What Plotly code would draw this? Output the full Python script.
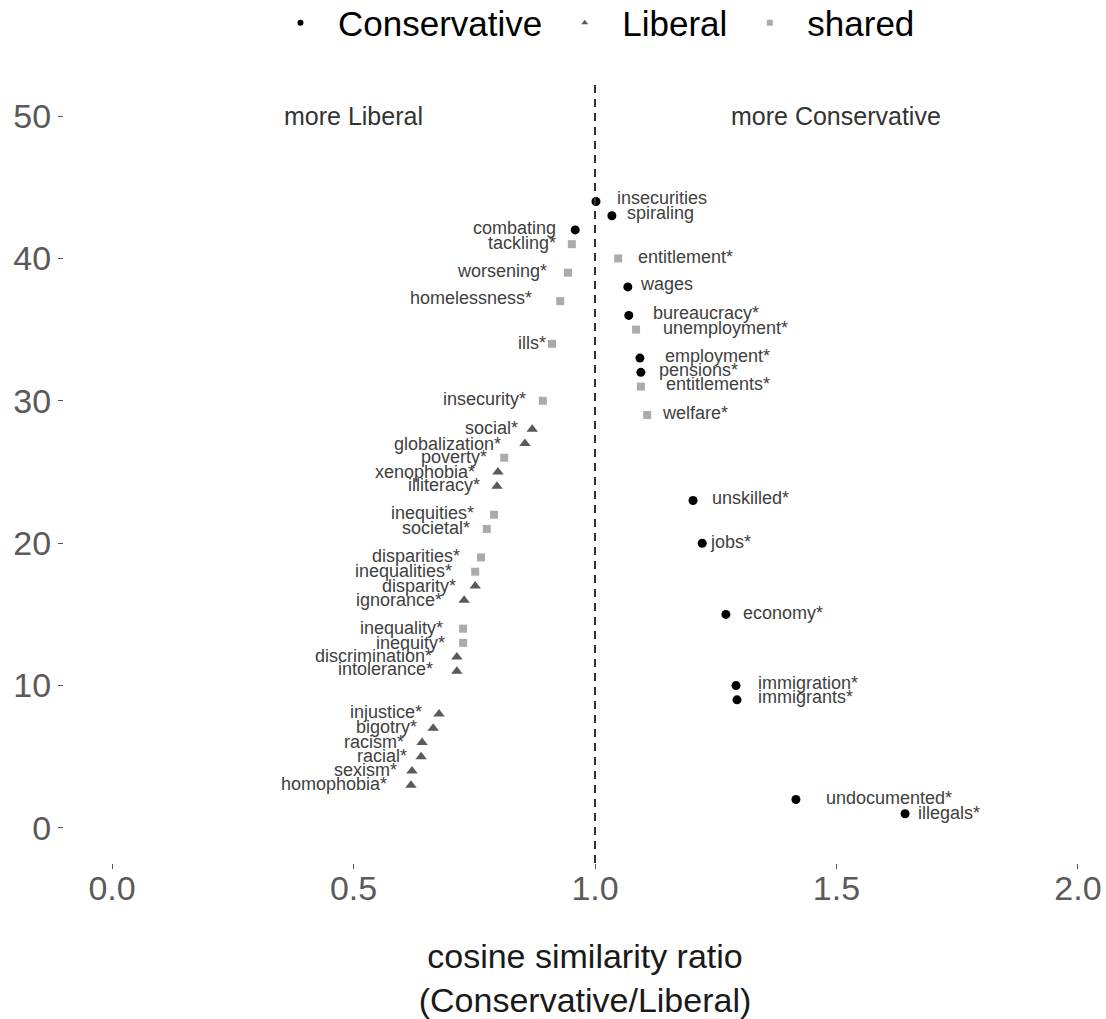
import plotly.graph_objects as go

# ---- data (rank order, bottom to top) ----
words = ["illegals*", "undocumented*", "homophobia*", "sexism*", "racial*", "racism*",
         "bigotry*", "injustice*", "immigrants*", "immigration*", "intolerance*",
         "discrimination*", "inequity*", "inequality*", "economy*", "ignorance*",
         "disparity*", "inequalities*", "disparities*", "jobs*", "societal*",
         "inequities*", "unskilled*", "illiteracy*", "xenophobia*", "poverty*",
         "globalization*", "social*", "welfare*", "insecurity*", "entitlements*",
         "pensions*", "employment*", "ills*", "unemployment*", "bureaucracy*",
         "homelessness*", "wages", "worsening*", "entitlement*", "tackling*",
         "combating", "spiraling", "insecurities"]
rank = list(range(1, 45))
ratio = [1.642, 1.416, 0.619, 0.621, 0.640, 0.642, 0.665, 0.677, 1.294, 1.292, 0.714,
         0.714, 0.727, 0.727, 1.271, 0.729, 0.752, 0.752, 0.764, 1.222, 0.776,
         0.791, 1.203, 0.797, 0.799, 0.812, 0.855, 0.870, 1.108, 0.892, 1.095,
         1.095, 1.093, 0.911, 1.085, 1.070, 0.928, 1.068, 0.944, 1.048, 0.952,
         0.959, 1.035, 1.002]
group = ["C", "C", "L", "L", "L", "L", "L", "L", "C", "C", "L",
         "L", "S", "S", "C", "L", "L", "S", "S", "C", "S",
         "S", "C", "L", "L", "S", "L", "L", "S", "S", "S",
         "C", "C", "S", "S", "C", "S", "C", "S", "S", "S",
         "C", "C", "C"]
group_names = {"C": "Conservative", "L": "Liberal", "S": "shared"}
x_ticks = [0.0, 0.5, 1.0, 1.5, 2.0]
y_ticks = [0, 10, 20, 30, 40, 50]

# ---- label offsets (screen pixels, repel-style placement) ----
label_dx = [13, 30, -24, -15, -14, -18, -16, -17, 21, 22, -24,
            -25, -18, -20, 17, -22, -19, -23, -21, 8, -17,
            -20, 19, -17, -23, -17, -24, -14, 15, -17, 25,
            18, 25, -6, 27, 24, -28, 12, -21, 20, -16,
            -19, 15, 21]
label_dy = [-1, -2, -1, -1, -1, -1, -1, -2, -3, -3, -2,
            -1, 0, -1, -1, 0, 0, -1, -1, -1, -1,
            -2, -2, -1, 0, -1, 0, -1, -2, -2, -3,
            -2, -2, -1, -2, -2, -3, -3, -2, -1, -1,
            -2, -3, -3]

styles = {
    "C": dict(symbol="circle", color="#000000", size=9),
    "L": dict(symbol="triangle-up", color="#5a5a5a", size=10),
    "S": dict(symbol="square", color="#ababab", size=8),
}

FONT = "Liberation Sans, Arial, Helvetica, sans-serif"
SP = "\u2002"

fig = go.Figure()

for g in ["C", "L", "S"]:
    xs = [r for r, gg in zip(ratio, group) if gg == g]
    ys = [k for k, gg in zip(rank, group) if gg == g]
    st = styles[g]
    fig.add_trace(go.Scatter(
        x=xs, y=ys, mode="markers", showlegend=False,
        marker=dict(symbol=st["symbol"], color=st["color"], size=st["size"], line=dict(width=0)),
        hoverinfo="skip"))

# legend-only entries with small keys
for g in ["C", "L", "S"]:
    st = styles[g]
    fig.add_trace(go.Scatter(
        x=[None], y=[None], mode="markers", name=SP + group_names[g] + SP,
        marker=dict(symbol=st["symbol"], color=st["color"], size=6, line=dict(width=0))))

# vertical reference line
fig.add_vline(x=1.0, line=dict(color="#333333", width=2, dash="8px,6px"))

annotations = []
for w, xv, yv, dx, dy in zip(words, ratio, rank, label_dx, label_dy):
    annotations.append(dict(
        x=xv, y=yv, xref="x", yref="y", text=w, showarrow=False,
        xanchor="left" if dx > 0 else "right", yanchor="middle",
        xshift=dx, yshift=-dy, borderpad=0, borderwidth=0,
        font=dict(family=FONT, size=18, color="#404040")))

annotations.append(dict(x=0.5, y=50, xref="x", yref="y", text="more Liberal", showarrow=False,
                        font=dict(family=FONT, size=25, color="#333333")))
annotations.append(dict(x=1.5, y=50, xref="x", yref="y", text="more Conservative", showarrow=False,
                        font=dict(family=FONT, size=25, color="#333333")))

fig.update_layout(
    width=1106, height=1019,
    margin=dict(l=64, r=0, t=83, b=156, autoexpand=False),
    paper_bgcolor="white", plot_bgcolor="white",
    font=dict(family=FONT),
    annotations=annotations,
    legend=dict(orientation="h", x=0.523, xanchor="center", y=1.077, yanchor="middle",
                font=dict(family=FONT, size=35, color="#000000"),
                itemsizing="trace", bgcolor="rgba(0,0,0,0)"),
    xaxis=dict(range=[-0.0994, 2.058], tickvals=x_ticks, ticktext=[f"{v:.1f}" for v in x_ticks],
               showgrid=False, zeroline=False, showline=False,
               ticks="outside", ticklen=5, tickcolor="#555555", tickwidth=1,
               ticklabelstandoff=-10,
               tickfont=dict(family=FONT, size=34, color="#5a5a5a"),
               title=dict(text="cosine similarity ratio<br>(Conservative/Liberal)",
                          font=dict(family=FONT, size=34, color="#1a1a1a"), standoff=40)),
    yaxis=dict(range=[-2.46, 52.32], tickvals=y_ticks,
               showgrid=False, zeroline=False, showline=False,
               ticks="outside", ticklen=5, tickcolor="#555555", tickwidth=1,
               tickfont=dict(family=FONT, size=34, color="#5a5a5a")),
)

fig.write_html("out.html")
